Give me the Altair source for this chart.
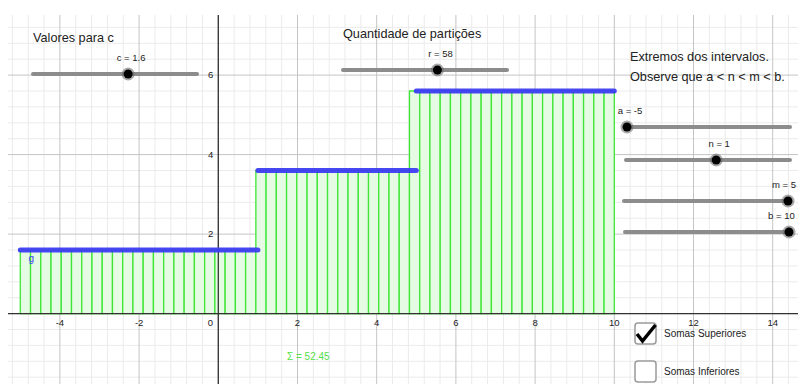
import math
import altair as alt
import pandas as pd

# ---------------- data ----------------
A_VAL, N_VAL, M_VAL, B_VAL = -5, 1, 5, 10
C_VAL = 1.6
R_VAL = 58

# step function g
g_start = [-5, 1, 5]
g_end = [1, 5, 10]
g_value = [1.6, 3.6, 5.6]

# heights of the 58 rectangles of the upper sum (left to right)
upper_heights = [
    1.6, 1.6, 1.6, 1.6, 1.6, 1.6, 1.6, 1.6, 1.6, 1.6,
    1.6, 1.6, 1.6, 1.6, 1.6, 1.6, 1.6, 1.6, 1.6, 1.6,
    1.6, 1.6, 1.6, 3.6, 3.6, 3.6, 3.6, 3.6, 3.6, 3.6,
    3.6, 3.6, 3.6, 3.6, 3.6, 3.6, 3.6, 3.6, 5.6, 5.6,
    5.6, 5.6, 5.6, 5.6, 5.6, 5.6, 5.6, 5.6, 5.6, 5.6,
    5.6, 5.6, 5.6, 5.6, 5.6, 5.6, 5.6, 5.6,
]

x_ticks = [-4, -2, 0, 2, 4, 6, 8, 10, 12, 14]
y_ticks = [2, 4, 6]

slider_name = ["c", "r", "a", "n", "m", "b"]
slider_value = [1.6, 58, -5, 1, 5, 10]
slider_min = [-10, 1, -5, -10, -5, 0]
slider_max = [10, 100, 5, 10, 5, 10]

title_texts = ["Valores para c", "Quantidade de partições",
               "Extremos dos intervalos.", "Observe que a < n < m < b."]
checkbox_labels = ["Somas Superiores", "Somas Inferiores"]
checkbox_checked = [True, False]

# ---------------- screen layout (pixels of the graphics view) ----------------
PXU_X, PXU_Y = 39.6, 39.75
ORIG = (218.3, 313.6)
VIEW = (8, 15, 798, 384)  # left, top, right, bottom in page pixels


def gx(px):
    return (px - ORIG[0]) / PXU_X


def gy(py):
    return (ORIG[1] - py) / PXU_Y


W = VIEW[2] - VIEW[0]
H = VIEW[3] - VIEW[1]
xs = alt.Scale(domain=[gx(VIEW[0]), gx(VIEW[2])], nice=False, zero=False)
ys = alt.Scale(domain=[gy(VIEW[3]), gy(VIEW[1])], nice=False, zero=False)
XE = alt.X("x:Q", scale=xs, axis=None)
YE = alt.Y("y:Q", scale=ys, axis=None)

slider_track_px = [(33, 197, 74), (343, 507, 70), (627, 790, 127),
                   (626, 790, 160), (624, 788, 201), (625, 789, 232)]
title_pos_px = [(33, 38), (343, 34), (630, 57), (630, 77)]
checkbox_pos_px = [(635, 323), (635, 361)]
CHECK_SIZE = 21
LABEL_RIGHT_LIMIT = 797  # slider labels are kept inside the visible view
FONT = "Liberation Sans"
TXT = "#222222"

layers = []

# ---------------- grid ----------------
x0, x1 = xs.domain
y0, y1 = ys.domain
minor_x = [k * 0.4 for k in range(math.ceil(x0 / 0.4), math.floor(x1 / 0.4) + 1) if k % 5 != 0]
major_x = [k * 2 for k in range(math.ceil(x0 / 2), math.floor(x1 / 2) + 1)]
minor_y = [k * 0.4 for k in range(math.ceil(y0 / 0.4), math.floor(y1 / 0.4) + 1) if k % 5 != 0]
major_y = [k * 2 for k in range(math.ceil(y0 / 2), math.floor(y1 / 2) + 1)]

layers.append(alt.Chart(pd.DataFrame({"x": minor_x})).mark_rule(color="#ebebeb", strokeWidth=1).encode(x=XE))
layers.append(alt.Chart(pd.DataFrame({"y": minor_y})).mark_rule(color="#ebebeb", strokeWidth=1).encode(y=YE))
layers.append(alt.Chart(pd.DataFrame({"x": major_x})).mark_rule(color="#c4c4c4", strokeWidth=1).encode(x=XE))
layers.append(alt.Chart(pd.DataFrame({"y": major_y})).mark_rule(color="#c4c4c4", strokeWidth=1).encode(y=YE))

# ---------------- rectangles of the upper sum ----------------
width = (B_VAL - A_VAL) / R_VAL
rect_df = pd.DataFrame({
    "x": [A_VAL + i * width for i in range(R_VAL)],
    "x2": [A_VAL + (i + 1) * width for i in range(R_VAL)],
    "y": [0.0] * R_VAL,
    "y2": upper_heights,
})
layers.append(alt.Chart(rect_df).mark_rect(fill="#e6fbe3", stroke="#3fe636", strokeWidth=1.3, clip=True)
              .encode(x=XE, x2="x2", y=YE, y2="y2"))

# ---------------- axes ----------------
layers.append(alt.Chart(pd.DataFrame({"y": [0]})).mark_rule(color="#333333", strokeWidth=1.3).encode(y=YE))
layers.append(alt.Chart(pd.DataFrame({"x": [0]})).mark_rule(color="#333333", strokeWidth=1.3).encode(x=XE))

xt = pd.DataFrame({"x": x_ticks, "y": [0] * len(x_ticks), "t": [str(v) for v in x_ticks]})
layers.append(alt.Chart(xt[xt.x != 0]).mark_text(font=FONT, fontSize=9.5, color=TXT, dy=9, baseline="middle", clip=True)
              .encode(x=XE, y=YE, text="t:N"))
layers.append(alt.Chart(xt[xt.x == 0]).mark_text(font=FONT, fontSize=9.5, color=TXT, dy=9, dx=-8, baseline="middle", clip=True)
              .encode(x=XE, y=YE, text="t:N"))
yt = pd.DataFrame({"x": [0] * len(y_ticks), "y": y_ticks, "t": [str(v) for v in y_ticks]})
layers.append(alt.Chart(yt).mark_text(font=FONT, fontSize=9.5, color=TXT, dx=-5, align="right", baseline="middle", clip=True)
              .encode(x=XE, y=YE, text="t:N"))

# ---------------- function g ----------------
g_df = pd.DataFrame({"x": g_start, "x2": g_end, "y": g_value})
layers.append(alt.Chart(g_df).mark_rule(color="#3d3df2", strokeWidth=5, strokeCap="round", opacity=0.95)
              .encode(x=XE, x2="x2", y=YE))
layers.append(alt.Chart(pd.DataFrame({"x": [g_start[0]], "y": [g_value[0]], "t": ["g"]}))
              .mark_text(font=FONT, fontSize=10, color="#3d3df2", dx=11, dy=9, baseline="middle")
              .encode(x=XE, y=YE, text="t:N"))

# ---------------- sum label ----------------
total = sum(h * width for h in upper_heights)
layers.append(alt.Chart(pd.DataFrame({"x": [gx(287)], "y": [gy(357)], "t": [f"Σ = {total:.2f}"]}))
              .mark_text(font=FONT, fontSize=10, color="#55e04a", align="left", baseline="middle")
              .encode(x=XE, y=YE, text="t:N"))

# ---------------- sliders ----------------
rows = []
for name, val, lo, hi, (sx, ex, py) in zip(slider_name, slider_value, slider_min, slider_max, slider_track_px):
    frac = (val - lo) / (hi - lo)
    kx = sx + frac * (ex - sx)
    label = f"{name} = {val}"
    half = 2.6 * len(label)  # approx. half width of the label in pixels
    lx = min(kx + 3, LABEL_RIGHT_LIMIT - half)
    rows.append({"x": gx(sx), "x2": gx(ex), "y": gy(py), "kx": gx(kx),
                 "lx": gx(lx), "t": label})
sl = pd.DataFrame(rows)
layers.append(alt.Chart(sl).mark_rule(color="#8c8c8c", strokeWidth=4, strokeCap="round", clip=True)
              .encode(x=XE, x2="x2", y=YE))
layers.append(alt.Chart(sl).mark_point(filled=True, color="#666666", opacity=0.55, size=170, clip=True)
              .encode(x=alt.X("kx:Q", scale=xs, axis=None), y=YE))
layers.append(alt.Chart(sl).mark_point(filled=True, color="#000000", opacity=1, size=80, clip=True)
              .encode(x=alt.X("kx:Q", scale=xs, axis=None), y=YE))
layers.append(alt.Chart(sl).mark_text(font=FONT, fontSize=9.5, color=TXT, dy=-16, baseline="middle")
              .encode(x=alt.X("lx:Q", scale=xs, axis=None), y=YE, text="t:N"))

# ---------------- titles ----------------
tt = pd.DataFrame({"x": [gx(p[0]) for p in title_pos_px], "y": [gy(p[1]) for p in title_pos_px], "t": title_texts})
layers.append(alt.Chart(tt).mark_text(font=FONT, fontSize=12.7, color=TXT, align="left", baseline="middle")
              .encode(x=XE, y=YE, text="t:N"))

# ---------------- checkboxes ----------------
cb = pd.DataFrame({
    "x": [gx(p[0]) for p in checkbox_pos_px],
    "x2": [gx(p[0] + CHECK_SIZE) for p in checkbox_pos_px],
    "y": [gy(p[1]) for p in checkbox_pos_px],
    "y2": [gy(p[1] + CHECK_SIZE) for p in checkbox_pos_px],
    "cx": [gx(p[0] + CHECK_SIZE / 2 + 0.5) for p in checkbox_pos_px],
    "cy": [gy(p[1] + CHECK_SIZE / 2) for p in checkbox_pos_px],
    "lx": [gx(p[0] + CHECK_SIZE + 8) for p in checkbox_pos_px],
    "t": checkbox_labels,
    "checked": checkbox_checked,
})
layers.append(alt.Chart(cb).mark_rect(fill="white", stroke="#9a9a9a", strokeWidth=1.5, cornerRadius=3)
              .encode(x=XE, x2="x2", y=YE, y2="y2"))
layers.append(alt.Chart(cb[cb.checked]).mark_point(
    shape="M-0.9,0.05L-0.35,0.75L0.95,-0.85", filled=False, color="black", strokeWidth=3.5, size=400, opacity=1)
    .encode(x=alt.X("cx:Q", scale=xs, axis=None), y=alt.Y("cy:Q", scale=ys, axis=None)))
layers.append(alt.Chart(cb).mark_text(font=FONT, fontSize=10, color=TXT, align="left", baseline="middle")
              .encode(x=alt.X("lx:Q", scale=xs, axis=None), y=alt.Y("cy:Q", scale=ys, axis=None), text="t:N"))

chart = alt.layer(*layers).properties(
    width=W, height=H,
    padding={"left": 0, "top": VIEW[1] - 8, "right": 0, "bottom": 0},
    autosize=alt.AutoSizeParams(type="none"),
    background="white",
).configure_view(stroke=None)

chart.save("out.html", embed_options={"renderer": "svg", "actions": False})
